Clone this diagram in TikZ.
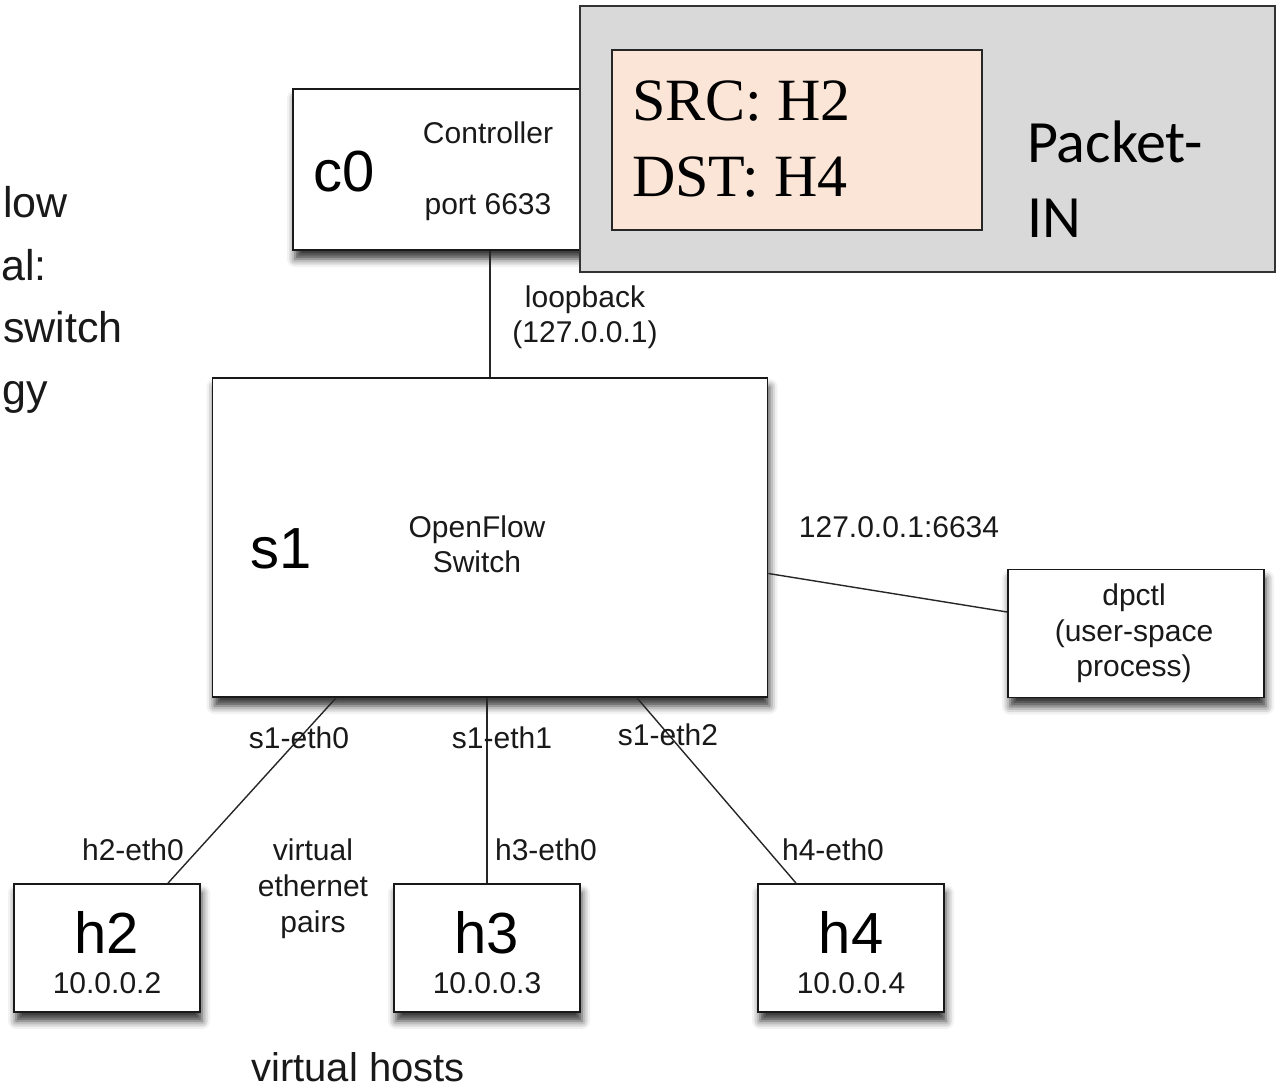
\documentclass[tikz,border=0pt]{standalone}
\usepackage{fontspec}
\setmainfont{Liberation Sans}
\newfontfamily\serifpkt{Liberation Serif}
\newfontfamily\calib{Carlito}
\usetikzlibrary{shadows.blur,calc}
\definecolor{pinkfill}{HTML}{FBE5D6}
\definecolor{grayfill}{HTML}{D9D9D9}
\begin{document}
\begin{tikzpicture}[x=1pt,y=-1pt,
  netbox/.style={draw=black!90, line width=1.8pt, fill=white, rectangle, inner sep=0pt,
    blur shadow={shadow xshift=2pt, shadow yshift=-9pt, shadow blur radius=8pt, shadow opacity=80}},
  link/.style={draw=black!85, line width=1.4pt},
  small/.style={font=\fontsize{30}{36}\selectfont, inner sep=0pt, text=black!90},
  big/.style={font=\fontsize{58}{64}\selectfont, inner sep=0pt, text=black},
  side/.style={font=\fontsize{43}{50}\selectfont, inner sep=0pt, anchor=base east, text=black!90},
  pktbig/.style={font=\serifpkt\fontsize{60}{66}\selectfont, inner sep=0pt, anchor=base west},
  pktcal/.style={font=\calib\fontsize{60}{66}\selectfont, inner sep=0pt, anchor=base west}
]
\useasboundingbox (0,0) rectangle (1276,1091);

% left, partially visible title text
\node[side] (t1) at (68,218) {low};
\node[side] (t2) at (47,280) {al:};
\node[side] (t3) at (123,342) {switch};
\node[side] (t4) at (48,404) {gy};

% boxes
\node[netbox, minimum width=347pt, minimum height=161pt] (c0) at (466.5,169.5) {};
\node[netbox, minimum width=555pt, minimum height=319pt] (s1) at (490,537.5) {};
\node[netbox, minimum width=256pt, minimum height=128pt] (dp) at (1136,633.5) {};
\node[netbox, minimum width=186pt, minimum height=128pt] (h2) at (107,948) {};
\node[netbox, minimum width=186pt, minimum height=128pt] (h3) at (487,948) {};
\node[netbox, minimum width=186pt, minimum height=128pt] (h4) at (851,948) {};

% connectors
\draw[link] (s1.north) -- (s1.north |- c0.south);
\draw[link] ($(s1.south)+(-154,0)$) -- ($(h2.north)+(61,0)$);
\draw[link] (s1.south -| h3.north) -- (h3.north);
\draw[link] ($(s1.south)+(147,0)$) -- ($(h4.north)+(-55,0)$);
\draw[link] ($(s1.east)+(0,36)$) -- ($(dp.west)+(0,-21.5)$);

% c0 texts
\node[big, anchor=base west] (c0t) at (313,192) {c0};
\node[small, anchor=base] (c0a) at (488,144) {Controller};
\node[small, anchor=base] (c0b) at (488,215) {port 6633};

% loopback
\node[small, anchor=base] (lb1) at (585,307) {loopback};
\node[small, anchor=base] (lb2) at (585,342) {(127.0.0.1)};

% s1 texts
\node[big, anchor=base west] (s1t) at (250,568) {s1};
\node[small, anchor=base] (s1a) at (477,537) {OpenFlow};
\node[small, anchor=base] (s1b) at (477,572) {Switch};

\node[small, anchor=base] (ip) at (899,537) {127.0.0.1:6634};

% dpctl
\node[small, anchor=base] (dp1) at (1134,605) {dpctl};
\node[small, anchor=base] (dp2) at (1134,641) {(user-space};
\node[small, anchor=base] (dp3) at (1134,676) {process)};

% interface labels
\node[small, anchor=base] (e0) at (299,748) {s1-eth0};
\node[small, anchor=base] (e1) at (502,748) {s1-eth1};
\node[small, anchor=base] (e2) at (668,745) {s1-eth2};
\node[small, anchor=base] (he2) at (133,860) {h2-eth0};
\node[small, anchor=base] (he3) at (546,860) {h3-eth0};
\node[small, anchor=base] (he4) at (833,860) {h4-eth0};
\node[small, anchor=base] (vp1) at (313,860) {virtual};
\node[small, anchor=base] (vp2) at (313,896) {ethernet};
\node[small, anchor=base] (vp3) at (313,932) {pairs};

% hosts
\node[big, anchor=base] (h2t) at (107,953) {h2};
\node[small, anchor=base] (h2ip) at (107,993) {10.0.0.2};
\node[big, anchor=base] (h3t) at (487,953) {h3};
\node[small, anchor=base] (h3ip) at (487,993) {10.0.0.3};
\node[big, anchor=base] (h4t) at (851,953) {h4};
\node[small, anchor=base] (h4ip) at (851,993) {10.0.0.4};

\node[font=\fontsize{40}{46}\selectfont, inner sep=0pt, anchor=base, text=black!90] (vh) at (358,1081) {virtual hosts};

% Packet-IN overlay
\node[draw=black!80, line width=1.8pt, fill=grayfill, rectangle, inner sep=0pt,
  minimum width=695pt, minimum height=266pt] (pkt) at (927.5,139) {};
\node[draw=black!85, line width=1.5pt, fill=pinkfill, rectangle, inner sep=0pt,
  minimum width=370pt, minimum height=180pt] (hdr) at (797,140) {};
\node[pktbig] (src) at (632,121) {SRC: H2};
\node[pktbig] (dst) at (632,197) {DST: H4};
\node[pktcal] (pin1) at (1027,163) {Packet-};
\node[pktcal] (pin2) at (1027,238) {IN};
\end{tikzpicture}
\end{document}
